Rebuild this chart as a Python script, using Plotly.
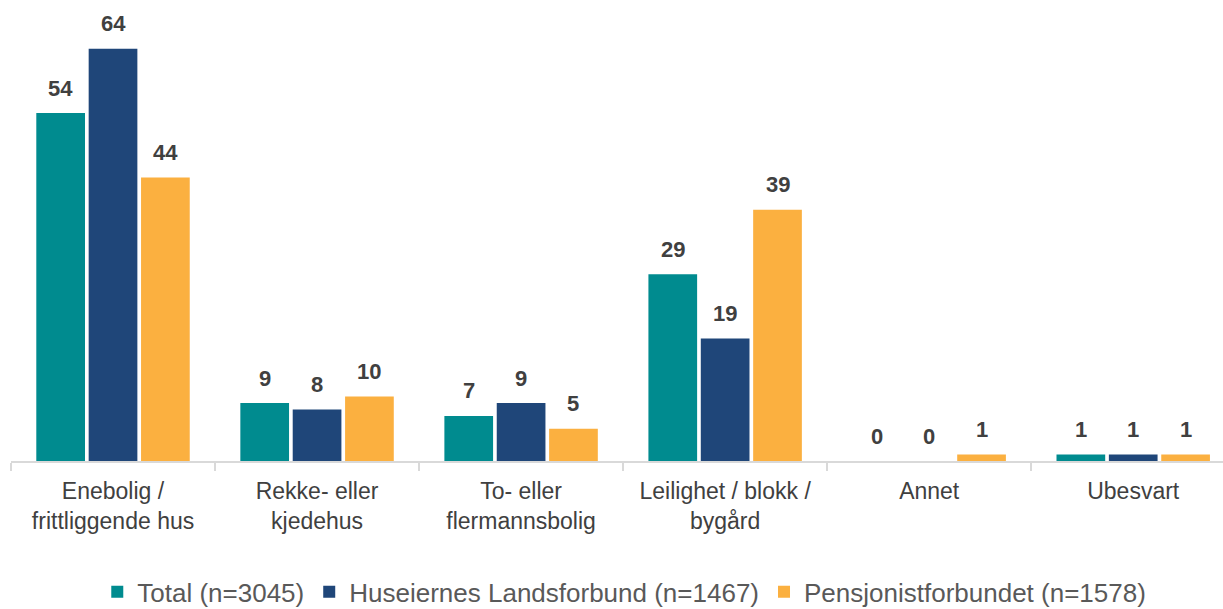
import plotly.graph_objects as go

categories = [
    "Enebolig /<br>frittliggende hus",
    "Rekke- eller<br>kjedehus",
    "To- eller<br>flermannsbolig",
    "Leilighet / blokk /<br>bygård",
    "Annet",
    "Ubesvart",
]
series_names = [
    "Total (n=3045)",
    "Huseiernes Landsforbund (n=1467)",
    "Pensjonistforbundet (n=1578)",
]
total = [54, 9, 7, 29, 0, 1]
huseiernes = [64, 8, 9, 19, 0, 1]
pensjonist = [44, 10, 5, 39, 1, 1]
colors = ["#008B8F", "#1F4679", "#FBB040"]

FONT = "Arial, Liberation Sans, sans-serif"
series_values = [total, huseiernes, pensjonist]

fig = go.Figure()
for name, vals, col in zip(series_names, series_values, colors):
    fig.add_trace(go.Bar(
        x=categories, y=vals, name=name,
        marker=dict(color=col, line=dict(width=0)),
        hoverinfo="skip",
    ))

# Value labels above each bar
W, H = 1223, 609
ML, MR, MT, MB = 11, 0, 10, 148
x_range = [-0.5, 5.44]
px_per_cat = (W - ML - MR) / (x_range[1] - x_range[0])
bargap, bargroupgap = 0.23, 0.07
slot = px_per_cat * (1 - bargap) / 3
for i, vals in enumerate(series_values):
    for cat, v in zip(categories, vals):
        fig.add_annotation(
            x=cat, y=v, text=f"<b>{v}</b>", showarrow=False,
            xshift=(i - 1) * slot, yshift=25, yanchor="middle",
            font=dict(family=FONT, size=22, color="#404040"),
        )

fig.update_layout(
    width=W, height=H,
    margin=dict(l=ML, r=MR, t=MT, b=MB, autoexpand=False),
    paper_bgcolor="white", plot_bgcolor="white",
    barmode="group", bargap=bargap, bargroupgap=bargroupgap,
    font=dict(family=FONT, color="#404040"),
    showlegend=True,
    legend=dict(
        orientation="h", x=0.506, xanchor="center", y=-0.290, yanchor="middle",
        font=dict(family=FONT, size=26, color="#595959"),
        itemclick=False, itemdoubleclick=False,
    ),
    xaxis=dict(
        range=x_range, showgrid=False, zeroline=False,
        showline=True, linecolor="#D9D9D9", linewidth=1.5,
        ticks="outside", tickson="boundaries", ticklen=8,
        tickcolor="#D9D9D9", tickwidth=1.5,
        ticklabelstandoff=9,
        tickfont=dict(family=FONT, size=23, color="#404040"),
        fixedrange=True,
    ),
    yaxis=dict(
        range=[0, 70], visible=False, showgrid=False, zeroline=False,
        fixedrange=True,
    ),
)

fig.write_html("out.html", config={"displayModeBar": False})
